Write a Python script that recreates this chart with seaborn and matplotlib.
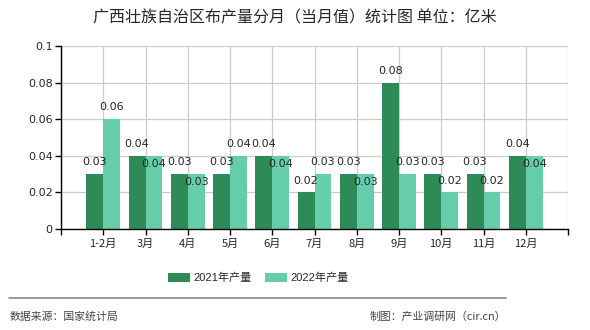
import matplotlib
matplotlib.use("Agg")
import matplotlib.pyplot as plt
import seaborn as sns
import pandas as pd
from matplotlib.lines import Line2D
from matplotlib.patches import Patch

months = ["1-2月", "3月", "4月", "5月", "6月", "7月", "8月", "9月", "10月", "11月", "12月"]
y2021 = [0.03, 0.04, 0.03, 0.03, 0.04, 0.02, 0.03, 0.08, 0.03, 0.03, 0.04]
y2022 = [0.06, 0.04, 0.03, 0.04, 0.04, 0.03, 0.03, 0.03, 0.02, 0.02, 0.04]
series_names = ["2021年产量", "2022年产量"]
yticks = [0, 0.02, 0.04, 0.06, 0.08, 0.1]
ytick_labels = ["0", "0.02", "0.04", "0.06", "0.08", "0.1"]
title = "广西壮族自治区布产量分月（当月值）统计图 单位：亿米"
source = "数据来源：国家统计局"
credit = "制图：产业调研网（cir.cn）"

colors = ["#2E8B57", "#66CDAA"]

sns.set_theme(style="white")
plt.rcParams["font.family"] = ["Noto Sans CJK SC", "DejaVu Sans"]

df = pd.DataFrame({
    "month": months * 2,
    "value": y2021 + y2022,
    "series": [series_names[0]] * len(months) + [series_names[1]] * len(months),
})

fig = plt.figure(figsize=(5.9, 3.3), dpi=100)
ax = fig.add_axes([61 / 590, 1 - 229 / 330, (568 - 61) / 590, (229 - 46) / 330])

sns.barplot(data=df, x="month", y="value", hue="series", order=months,
            hue_order=series_names, palette=colors, width=0.8, saturation=1,
            edgecolor="none", linewidth=0, ax=ax, legend=False, zorder=3)

ax.set_xlim(-1, len(months))
ax.set_ylim(0, 0.1)
ax.set_xticks(range(-1, len(months) + 1))
ax.set_xticklabels([""] + months + [""], fontsize=8)
ax.set_yticks(yticks)
ax.set_yticklabels(ytick_labels, fontsize=8, family=["DejaVu Sans"])
ax.set_xlabel("")
ax.set_ylabel("")
ax.grid(True, color="#cccccc", linewidth=0.9, zorder=0)
ax.set_axisbelow(True)
for s in ["top", "right"]:
    ax.spines[s].set_visible(False)
for s in ["left", "bottom"]:
    ax.spines[s].set_color("black")
    ax.spines[s].set_linewidth(1)
    ax.spines[s].set_zorder(4)
ax.tick_params(axis="both", which="both", length=4, width=1, color="black",
               direction="out", pad=3, left=True, bottom=True)
ax.tick_params(axis="y", pad=2)

# data labels
c0, c1 = ax.containers[0], ax.containers[1]
for i, (p0, p1) in enumerate(zip(c0.patches, c1.patches)):
    v0, v1 = y2021[i], y2022[i]
    ax.annotate(f"{v0:g}", (p0.get_x() + p0.get_width() / 2, v0),
                xytext=(0, 8.5), textcoords="offset points", ha="center",
                va="center", fontsize=8, family=["DejaVu Sans"], zorder=5)
    off = -6 if abs(v1 - v0) < 1e-9 else 8.5
    ax.annotate(f"{v1:g}", (p1.get_x() + p1.get_width() / 2, v1),
                xytext=(0, off), textcoords="offset points", ha="center",
                va="center", fontsize=8, family=["DejaVu Sans"], zorder=5)

fig.text(295 / 590, 1 - 18 / 330, title, ha="center", va="center", fontsize=11.5)

handles = [Patch(facecolor=colors[0], edgecolor="none"),
           Patch(facecolor=colors[1], edgecolor="none")]
fig.legend(handles, series_names, loc="center", bbox_to_anchor=(258 / 590, 1 - 278 / 330),
           ncol=2, frameon=False, fontsize=8, handlelength=2.0, handleheight=0.8,
           handletextpad=0.3, columnspacing=1.2,
           prop={"family": ["Liberation Sans", "Noto Sans CJK SC"], "size": 8})

fig.add_artist(Line2D([9 / 590, 506 / 590], [1 - 298 / 330, 1 - 298 / 330],
                      color="#888888", linewidth=1.2, transform=fig.transFigure))
fig.text(10 / 590, 1 - 317 / 330, source, ha="left", va="center", fontsize=7.8, color="#444444")
fig.text(506 / 590, 1 - 317 / 330, credit, ha="right", va="center", fontsize=7.8, color="#444444")

fig.savefig("out.png", dpi=100)
